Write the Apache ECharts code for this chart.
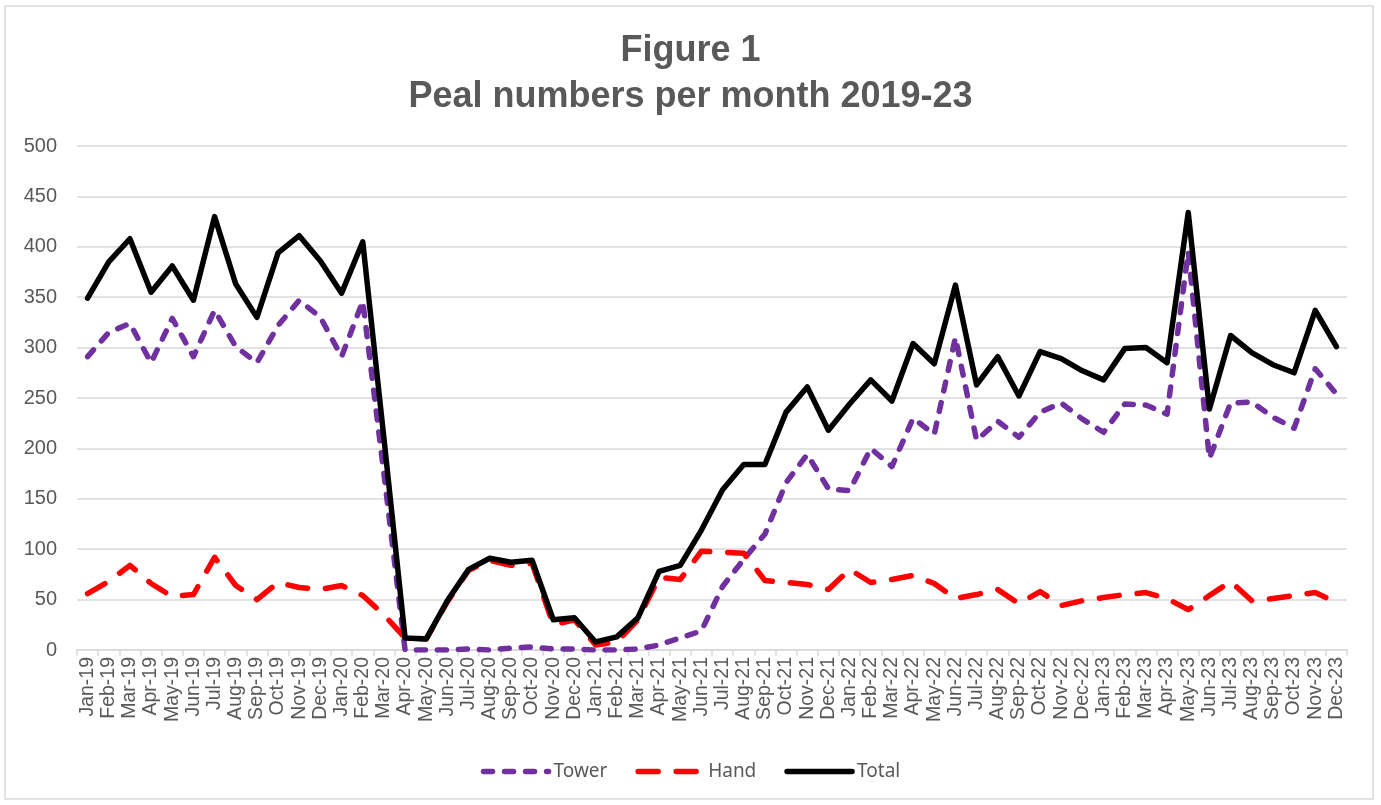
<!DOCTYPE html>
<html>
<head>
<meta charset="utf-8">
<script src="https://cdn.jsdelivr.net/npm/echarts@6/dist/echarts.min.js"></script>
<style>
html,body{margin:0;padding:0;background:#fff;}
#chart{width:1381px;height:805px;}
</style>
</head>
<body>
<div id="chart"></div>
<script>
const months = ["Jan-19","Feb-19","Mar-19","Apr-19","May-19","Jun-19","Jul-19","Aug-19","Sep-19","Oct-19","Nov-19","Dec-19",
"Jan-20","Feb-20","Mar-20","Apr-20","May-20","Jun-20","Jul-20","Aug-20","Sep-20","Oct-20","Nov-20","Dec-20",
"Jan-21","Feb-21","Mar-21","Apr-21","May-21","Jun-21","Jul-21","Aug-21","Sep-21","Oct-21","Nov-21","Dec-21",
"Jan-22","Feb-22","Mar-22","Apr-22","May-22","Jun-22","Jul-22","Aug-22","Sep-22","Oct-22","Nov-22","Dec-22",
"Jan-23","Feb-23","Mar-23","Apr-23","May-23","Jun-23","Jul-23","Aug-23","Sep-23","Oct-23","Nov-23","Dec-23"];

const tower = [291,315,324,285,329,291,337,301,285,322,347,330,
291,346,175,0,0,0,1,0,2,3,1,1,
0,0,1,5,12,19,63,90,115,166,194,160,
158,200,182,230,214,310,208,227,211,236,245,229,
216,244,243,234,395,190,245,246,231,220,279,254];

const hand = [56,68,84,66,53,55,92,64,50,67,62,60,
64,54,35,12,11,48,79,89,84,86,25,30,
5,8,30,72,70,98,97,96,69,67,65,60,
80,67,70,74,66,51,55,60,46,58,44,49,
52,55,57,51,40,54,68,49,51,54,57,47];

const total = [349,385,408,355,381,347,430,363,330,394,411,386,
354,405,210,12,11,49,80,91,87,89,30,32,
8,13,32,78,84,119,159,184,184,236,261,218,
244,268,247,304,284,362,263,291,252,296,289,277,
268,299,300,285,434,239,312,295,283,275,337,301];

const yTicks = {min:0, max:500, interval:50};

const chart = echarts.init(document.getElementById('chart'), null, {renderer:'canvas'});
const grey = '#595959';
chart.setOption({
  animation:false,
  backgroundColor:'#ffffff',
  graphic:[{type:'rect', shape:{x:5,y:6,width:1368,height:793}, style:{fill:'none', stroke:'#d9d9d9', lineWidth:1.5}, silent:true}],
  title:{
    text:'Figure 1\nPeal numbers per month 2019-23',
    left:'center', top:23,
    textStyle:{fontFamily:'Liberation Sans, Arial, sans-serif', fontSize:36, fontWeight:'bold', color:grey, lineHeight:46}
  },
  legend:{
    data:['Tower','Hand','Total'],
    bottom:19, left:'center',
    itemWidth:65, itemHeight:14, itemGap:28,
    itemStyle:{opacity:0},
    lineStyle:{width:5.5, cap:'round'},
    textStyle:{fontFamily:'Noto Sans, sans-serif', fontSize:19, color:grey}
  },
  grid:{left:77, right:34, top:146, bottom:155, containLabel:false},
  xAxis:{
    type:'category', data:months, boundaryGap:true,
    axisLine:{show:true, lineStyle:{color:'#d9d9d9', width:1.5}},
    axisTick:{show:true, length:6, lineStyle:{color:'#d9d9d9', width:1.5}},
    axisLabel:{interval:0, rotate:90, margin:7, color:grey, fontSize:19.5, fontFamily:'Liberation Sans, Arial, sans-serif'}
  },
  yAxis:{
    type:'value', min:yTicks.min, max:yTicks.max, interval:yTicks.interval,
    axisLine:{show:false}, axisTick:{show:false},
    splitLine:{lineStyle:{color:'#d9d9d9', width:1.5}},
    axisLabel:{margin:20, color:grey, fontSize:20, fontFamily:'Liberation Sans, Arial, sans-serif'}
  },
  series:[
    {name:'Tower', type:'line', data:tower, symbol:'none', showSymbol:false,
     itemStyle:{color:'#7030A0'},
     lineStyle:{color:'#7030A0', width:5.5, type:[9,12], cap:'round', join:'round'}},
    {name:'Hand', type:'line', data:hand, symbol:'none', showSymbol:false,
     itemStyle:{color:'#FF0000'},
     lineStyle:{color:'#FF0000', width:5.5, type:[20,18], cap:'round', join:'round'}},
    {name:'Total', type:'line', data:total, symbol:'none', showSymbol:false,
     itemStyle:{color:'#000000'},
     lineStyle:{color:'#000000', width:5.5, type:'solid', cap:'round', join:'round'}}
  ]
});
</script>
</body>
</html>
